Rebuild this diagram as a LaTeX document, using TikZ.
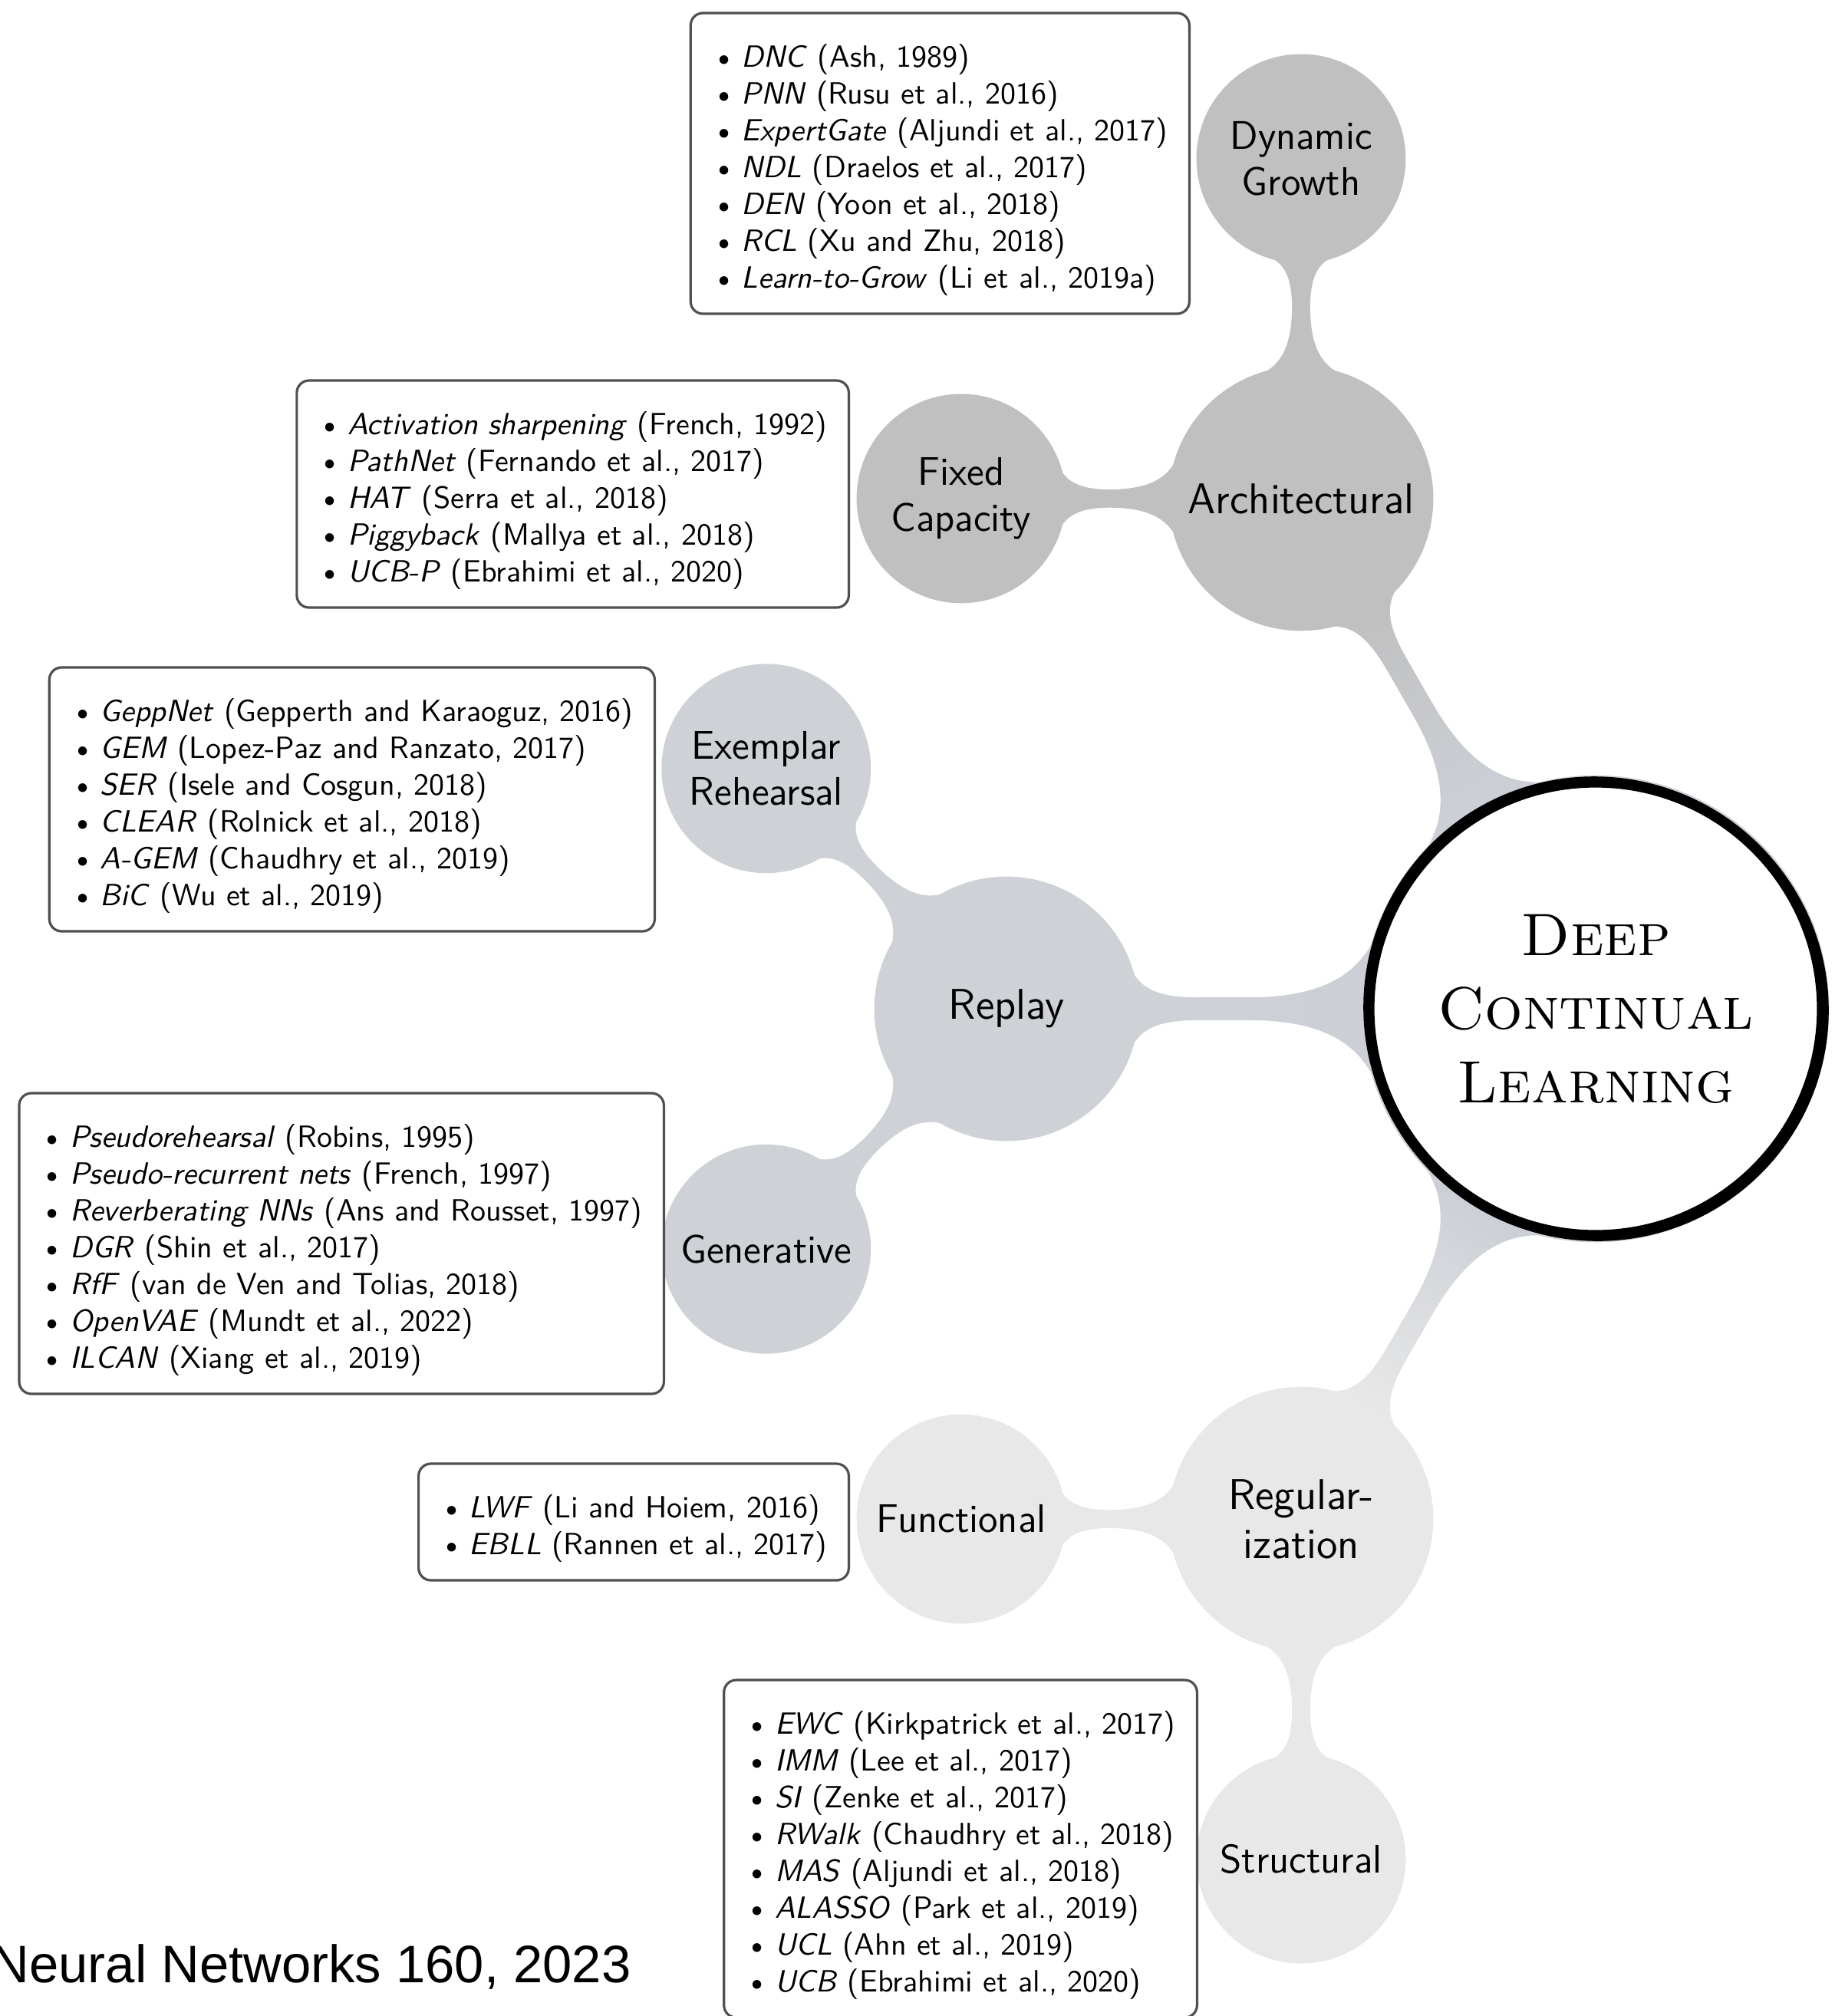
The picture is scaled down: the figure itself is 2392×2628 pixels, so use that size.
\documentclass[tikz,border=0pt]{standalone}
\usepackage{fontspec}
\newfontfamily\sourcefont{Liberation Sans}
\usetikzlibrary{mindmap}

\definecolor{rootgray}{RGB}{204,208,214}
\definecolor{archgray}{RGB}{192,192,192}
\definecolor{replaygray}{RGB}{206,209,214}
\definecolor{reggray}{RGB}{232,232,232}
\definecolor{boxline}{RGB}{80,80,80}

% one entry of a reference list: method name in italics, then the citation
\newcommand\litem[2]{{\rmfamily\textbullet}\hspace{1.8pt}\textit{#1} (#2)}
% taller first line, so the list sits a little low in its frame
\newcommand\firstline{\rule{0pt}{11.5pt}}

\begin{document}
\begin{tikzpicture}[x=0.25pt,y=0.25pt,
  refbox/.style={draw=boxline, line width=0.8pt, rounded corners=4pt, fill=white,
    align=left, inner xsep=7pt, inner ysep=6pt, anchor=east,
    font=\sffamily\fontsize{10}{12}\selectfont},
  cpt/.style={concept, text width=, inner sep=0pt, align=center, text=black},
  lvone/.style={cpt, minimum size=85pt, font=\sffamily\fontsize{14}{16}\selectfont},
  lvtwo/.style={cpt, minimum size=67pt, font=\sffamily\fontsize{13}{15}\selectfont},
]
\useasboundingbox (0,0) rectangle (2392,-2628);

% the mind map: root, three families, six sub-families
\path[mindmap, concept color=rootgray, text=black,
      level 1/.append style={level distance=192pt, sibling distance=0pt},
      level 2/.append style={level distance=110.75pt, sibling distance=0pt}]
  node[cpt, minimum size=151pt, fill=white,
       font=\rmfamily\scshape\fontsize{19.5}{24}\selectfont] (root) at (2080,-1315)
       {Deep\\Continual\\Learning}
  child[grow=120, concept color=archgray] {
    node[lvone] (arch) {Architectural}
    child[grow=90]  { node[lvtwo] (dyn) {Dynamic\\Growth} }
    child[grow=180] { node[lvtwo] (fix) {Fixed\\Capacity} }
  }
  child[grow=180, concept color=replaygray] {
    node[lvone] (rep) {Replay}
    child[grow=135] { node[lvtwo] (exe) {Exemplar\\Rehearsal} }
    child[grow=225] { node[lvtwo] (gen) {Generative} }
  }
  child[grow=240, concept color=reggray] {
    node[lvone] (reg) {Regular-\\ization}
    child[grow=180] { node[lvtwo] (fun) {Functional} }
    child[grow=270] { node[lvtwo] (str) {Structural} }
  };

% heavy pen outline of the root
\draw[line width=3.4pt] (root.center) circle[radius=73.8pt];
\draw[line width=1.6pt] ([shift={(3,-2)}]root.center) circle[radius=74.4pt];
\draw[line width=1.2pt] ([shift={(-2,2)}]root.center) circle[radius=74.6pt];

% reference lists
\node[refbox] (lDyn) at (1552,-213) {%
  \firstline\litem{DNC}{Ash, 1989}\\
  \litem{PNN}{Rusu et al., 2016}\\
  \litem{ExpertGate}{Aljundi et al., 2017}\\
  \litem{NDL}{Draelos et al., 2017}\\
  \litem{DEN}{Yoon et al., 2018}\\
  \litem{RCL}{Xu and Zhu, 2018}\\
  \litem{Learn-to-Grow}{Li et al., 2019a}};

\node[refbox] (lFix) at (1108,-644) {%
  \firstline\litem{Activation sharpening}{French, 1992}\\
  \litem{PathNet}{Fernando et al., 2017}\\
  \litem{HAT}{Serra et al., 2018}\\
  \litem{Piggyback}{Mallya et al., 2018}\\
  \litem{UCB-P}{Ebrahimi et al., 2020}};

\node[refbox] (lExe) at (855,-1042) {%
  \firstline\litem{GeppNet}{Gepperth and Karaoguz, 2016}\\
  \litem{GEM}{Lopez-Paz and Ranzato, 2017}\\
  \litem{SER}{Isele and Cosgun, 2018}\\
  \litem{CLEAR}{Rolnick et al., 2018}\\
  \litem{A-GEM}{Chaudhry et al., 2019}\\
  \litem{BiC}{Wu et al., 2019}};

\node[refbox] (lGen) at (867,-1621) {%
  \firstline\litem{Pseudorehearsal}{Robins, 1995}\\
  \litem{Pseudo-recurrent nets}{French, 1997}\\
  \litem{Reverberating NNs}{Ans and Rousset, 1997}\\
  \litem{DGR}{Shin et al., 2017}\\
  \litem{RfF}{van de Ven and Tolias, 2018}\\
  \litem{OpenVAE}{Mundt et al., 2022}\\
  \litem{ILCAN}{Xiang et al., 2019}};

\node[refbox] (lFun) at (1108,-1984) {%
  \firstline\litem{LWF}{Li and Hoiem, 2016}\\
  \litem{EBLL}{Rannen et al., 2017}};

\node[refbox] (lStr) at (1562,-2410) {%
  \firstline\litem{EWC}{Kirkpatrick et al., 2017}\\
  \litem{IMM}{Lee et al., 2017}\\
  \litem{SI}{Zenke et al., 2017}\\
  \litem{RWalk}{Chaudhry et al., 2018}\\
  \litem{MAS}{Aljundi et al., 2018}\\
  \litem{ALASSO}{Park et al., 2019}\\
  \litem{UCL}{Ahn et al., 2019}\\
  \litem{UCB}{Ebrahimi et al., 2020}};

% source line
\node[anchor=base west, inner sep=0pt, font=\sourcefont\fontsize{17.2}{20}\selectfont]
  (src) at (-12,-2584) {Neural Networks 160, 2023};
\end{tikzpicture}
\end{document}
